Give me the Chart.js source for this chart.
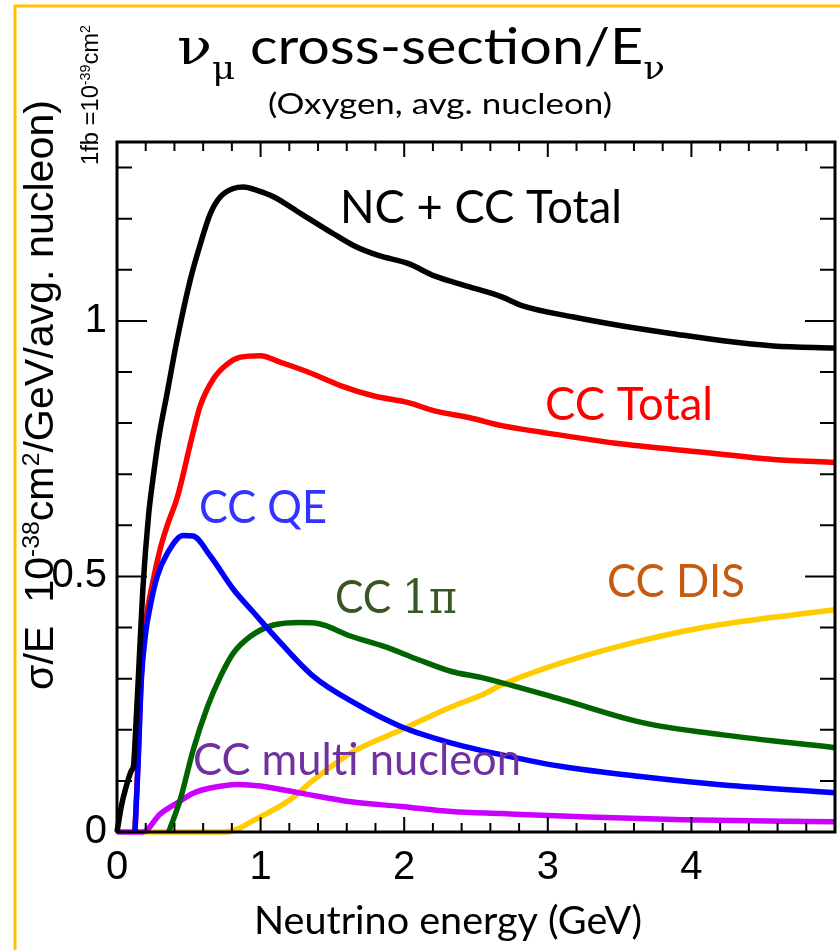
<!DOCTYPE html>
<html>
<head>
<meta charset="utf-8">
<title>nu_mu cross-section / E</title>
<script src="https://cdn.jsdelivr.net/npm/chart.js@4.4.1/dist/chart.umd.min.js"></script>
<style>
  html, body { margin: 0; padding: 0; background: #fff; overflow: hidden; }
  #chart { display: block; }
</style>
</head>
<body>
<canvas id="chart" width="840" height="950"></canvas>
<script>
// neutrino energy (GeV) and sigma/E (1e-38 cm^2/GeV/nucleon)
const totalE = [0, 0.03, 0.06, 0.1, 0.115, 0.13, 0.15, 0.18, 0.22, 0.25, 0.29, 0.35, 0.42, 0.51, 0.58, 0.65, 0.72, 0.81, 0.88, 0.98, 1.09, 1.28, 1.51, 1.65, 1.82, 2.03, 2.21, 2.45, 2.68, 2.82, 3.17, 3.52, 3.87, 4.22, 4.57, 5.0];
const totalV = [0, 0.05, 0.085, 0.12, 0.13, 0.2, 0.31, 0.475, 0.62, 0.69, 0.77, 0.86, 0.965, 1.08, 1.15, 1.21, 1.243, 1.259, 1.262, 1.255, 1.243, 1.21, 1.17, 1.147, 1.128, 1.112, 1.088, 1.067, 1.047, 1.03, 1.008, 0.99, 0.975, 0.961, 0.951, 0.947];

const ccE = [0.125, 0.145, 0.17, 0.2, 0.25, 0.3, 0.35, 0.42, 0.52, 0.58, 0.67, 0.77, 0.86, 1.0, 1.14, 1.33, 1.56, 1.79, 2.03, 2.21, 2.45, 2.68, 2.96, 3.52, 4.08, 4.57, 5.0];
const ccV = [0, 0.13, 0.31, 0.41, 0.49, 0.553, 0.6, 0.655, 0.77, 0.834, 0.886, 0.916, 0.929, 0.932, 0.919, 0.9, 0.873, 0.853, 0.84, 0.824, 0.811, 0.795, 0.782, 0.759, 0.743, 0.729, 0.723];

const qeE = [0.125, 0.145, 0.17, 0.2, 0.23, 0.28, 0.35, 0.46, 0.53, 0.65, 0.81, 0.95, 1.14, 1.37, 1.65, 1.98, 2.33, 2.68, 3.1, 3.66, 4.22, 5.0];
const qeV = [0, 0.12, 0.3, 0.39, 0.44, 0.5, 0.545, 0.58, 0.579, 0.54, 0.475, 0.43, 0.37, 0.304, 0.253, 0.206, 0.174, 0.151, 0.128, 0.108, 0.092, 0.077];

const piE = [0.36, 0.44, 0.53, 0.63, 0.72, 0.81, 0.93, 1.09, 1.28, 1.4, 1.63, 1.86, 2.1, 2.33, 2.54, 3.1, 3.66, 4.22, 5.0];
const piV = [0, 0.063, 0.16, 0.245, 0.304, 0.35, 0.383, 0.405, 0.41, 0.408, 0.383, 0.363, 0.337, 0.314, 0.302, 0.259, 0.214, 0.19, 0.165];

const disE = [0.2, 0.75, 1.0, 1.2, 1.37, 1.63, 1.98, 2.33, 2.54, 2.68, 3.0, 3.52, 4.08, 4.57, 5.0];
const disV = [0, 0, 0.03, 0.062, 0.102, 0.155, 0.2, 0.245, 0.268, 0.288, 0.322, 0.365, 0.4, 0.42, 0.435];

const mecE = [0, 0.18, 0.3, 0.42, 0.53, 0.65, 0.84, 1.0, 1.28, 1.63, 1.98, 2.33, 2.68, 3.24, 3.94, 5.0];
const mecV = [0, 0, 0.035, 0.057, 0.076, 0.086, 0.093, 0.09, 0.076, 0.059, 0.05, 0.04, 0.036, 0.03, 0.024, 0.02];

// axis ticks
const xMajor = [0, 1, 2, 3, 4];
const xTickLabels = ['0', '1', '2', '3', '4'];
const yMajor = [0, 0.5, 1];
const yTickLabels = ['0', '0.5', '1'];

const X_MAX = 5;
const Y_MAX = 1.35;

const LABEL_FONT = 'Lato, "Open Sans", sans-serif';
const ARIAL = '"Liberation Sans", Arial, sans-serif';
const SERIF = '"DejaVu Serif", "Liberation Serif", serif';

function pts(xs, ys) {
  return xs.map((x, i) => ({ x, y: ys[i] }));
}

function steps(max, step) {
  const out = [];
  for (let v = 0; v <= max + 1e-9; v += step) out.push(Math.round(v * 100) / 100);
  return out;
}

// draws a run of text pieces (sub/superscripts, mixed fonts), optionally squeezed to a width
function drawRich(ctx, parts, o) {
  ctx.save();
  ctx.translate(o.x, o.y);
  if (o.rotate) ctx.rotate(-Math.PI / 2);
  let total = 0;
  const measured = parts.map((p) => {
    const size = o.size * (p.k || 1);
    const font = `${size}px ${p.f || o.family}`;
    ctx.font = font;
    const w = ctx.measureText(p.t).width;
    total += w;
    return { p, font, w };
  });
  if (o.width) ctx.scale(o.width / total, 1);
  ctx.fillStyle = o.color || '#000';
  ctx.textBaseline = 'alphabetic';
  ctx.textAlign = 'left';
  let cx = 0;
  measured.forEach(({ p, font, w }) => {
    ctx.font = font;
    ctx.fillText(p.t, cx, (p.dy || 0) * o.size);
    cx += w;
  });
  ctx.restore();
}

const texts = [
  {
    parts: [
      { t: 'ν', f: SERIF },
      { t: 'μ', f: SERIF, k: 0.62, dy: 0.3 },
      { t: ' cross-section/E' },
      { t: 'ν', f: SERIF, k: 0.62, dy: 0.3 },
    ],
    x: 177, y: 64, size: 50, width: 488, family: LABEL_FONT,
  },
  { parts: [{ t: '(Oxygen, avg. nucleon)' }], x: 268, y: 114, size: 29, width: 344, family: LABEL_FONT },
  { parts: [{ t: 'NC + CC Total' }], x: 340, y: 223, size: 46, width: 282, family: LABEL_FONT, color: '#000' },
  { parts: [{ t: 'CC Total' }], x: 545, y: 420, size: 46, width: 168, family: LABEL_FONT, color: '#ff0000' },
  { parts: [{ t: 'CC QE' }], x: 199, y: 523, size: 46, width: 128, family: LABEL_FONT, color: '#3333ff' },
  { parts: [{ t: 'CC ' }, { t: '1π', f: SERIF }], x: 335, y: 613, size: 46, width: 122, family: LABEL_FONT, color: '#385723' },
  { parts: [{ t: 'CC DIS' }], x: 607, y: 597, size: 46, width: 138, family: LABEL_FONT, color: '#c55a11' },
  { parts: [{ t: 'CC multi nucleon' }], x: 193, y: 775, size: 44, width: 328, family: LABEL_FONT, color: '#7030a0' },
  { parts: [{ t: 'Neutrino energy (GeV)' }], x: 254, y: 934, size: 38, width: 388, family: LABEL_FONT },
  {
    parts: [
      { t: 'σ/E  10' },
      { t: '-38', k: 0.6, dy: -0.36 },
      { t: 'cm' },
      { t: '2', k: 0.6, dy: -0.36 },
      { t: '/GeV/avg. nucleon)' },
    ],
    x: 53, y: 690, size: 40, width: 590, family: ARIAL, rotate: true,
  },
  {
    parts: [
      { t: '1fb =10' },
      { t: '-39', k: 0.6, dy: -0.36 },
      { t: 'cm' },
      { t: '2', k: 0.6, dy: -0.36 },
    ],
    x: 98, y: 165, size: 23, width: 140, family: ARIAL, rotate: true,
  },
];

const decor = {
  id: 'decor',
  beforeDraw(chart) {
    const { ctx, width, height } = chart;
    ctx.save();
    ctx.fillStyle = '#fff';
    ctx.fillRect(0, 0, width, height);
    ctx.strokeStyle = '#ffc000';
    ctx.lineWidth = 3;
    ctx.beginPath();
    ctx.moveTo(15, height);
    ctx.lineTo(15, 6);
    ctx.lineTo(width, 6);
    ctx.stroke();
    ctx.restore();
  },
  afterDraw(chart) {
    const { ctx, chartArea: a } = chart;
    const xs = chart.scales.x;
    const ys = chart.scales.y;
    ctx.save();
    ctx.strokeStyle = '#000';
    ctx.lineWidth = 2;
    ctx.beginPath();
    xs.ticks.forEach((t) => {
      const px = xs.getPixelForValue(t.value);
      const len = xMajor.includes(t.value) ? 15 : 9;
      ctx.moveTo(px, a.bottom);
      ctx.lineTo(px, a.bottom - len);
      ctx.moveTo(px, a.top);
      ctx.lineTo(px, a.top + len);
    });
    ys.ticks.forEach((t) => {
      const py = ys.getPixelForValue(t.value);
      const len = yMajor.includes(t.value) ? 30 : 15;
      ctx.moveTo(a.left, py);
      ctx.lineTo(a.left + len, py);
      ctx.moveTo(a.right, py);
      ctx.lineTo(a.right - len, py);
    });
    ctx.stroke();
    ctx.lineWidth = 3;
    ctx.strokeRect(a.left, a.top, a.right - a.left, a.bottom - a.top);
    ctx.restore();

    texts.forEach((tx) => drawRich(ctx, tx.parts, tx));
  },
};

const lineStyle = {
  showLine: true,
  pointRadius: 0,
  borderWidth: 5.5,
  cubicInterpolationMode: 'monotone',
  borderJoinStyle: 'round',
  clip: false,
  fill: false,
};

const tickFont = { family: '"Liberation Sans Narrow", "Liberation Sans", Arial, sans-serif', size: 40, lineHeight: 1.2 };

new Chart(document.getElementById('chart'), {
  type: 'line',
  data: {
    datasets: [
      { ...lineStyle, label: 'NC + CC Total', data: pts(totalE, totalV), borderColor: '#000000' },
      { ...lineStyle, label: 'CC QE', data: pts(qeE, qeV), borderColor: '#0000ff' },
      { ...lineStyle, label: 'CC 1pi', data: pts(piE, piV), borderColor: '#006400' },
      { ...lineStyle, label: 'CC multi nucleon', data: pts(mecE, mecV), borderColor: '#cc00ff' },
      { ...lineStyle, label: 'CC DIS', data: pts(disE, disV), borderColor: '#ffcc00' },
      { ...lineStyle, label: 'CC Total', data: pts(ccE, ccV), borderColor: '#ff0000' },
    ],
  },
  options: {
    responsive: false,
    devicePixelRatio: 1,
    animation: false,
    events: [],
    layout: { padding: { left: 15, top: 142, right: 5, bottom: 0 } },
    plugins: {
      legend: { display: false },
      tooltip: { enabled: false },
    },
    scales: {
      x: {
        type: 'linear',
        min: 0,
        max: X_MAX,
        grid: { display: false, drawTicks: false },
        border: { display: false },
        afterBuildTicks: (scale) => {
          scale.ticks = steps(X_MAX - 0.2, 0.2).map((v) => ({ value: v }));
        },
        afterFit: (scale) => {
          scale.height = 118;
        },
        ticks: {
          autoSkip: false,
          maxRotation: 0,
          padding: 12,
          color: '#000',
          font: tickFont,
          callback: (v) => {
            const i = xMajor.indexOf(v);
            return i >= 0 ? xTickLabels[i] : '';
          },
        },
      },
      y: {
        min: 0,
        max: Y_MAX,
        grid: { display: false, drawTicks: false },
        border: { display: false },
        afterBuildTicks: (scale) => {
          scale.ticks = steps(1.3, 0.1).map((v) => ({ value: v }));
        },
        afterFit: (scale) => {
          scale.width = 102;
        },
        ticks: {
          autoSkip: false,
          padding: 10,
          color: '#000',
          font: tickFont,
          callback: (v) => {
            const i = yMajor.indexOf(v);
            return i >= 0 ? yTickLabels[i] : '';
          },
        },
      },
    },
  },
  plugins: [decor],
});
</script>
</body>
</html>
